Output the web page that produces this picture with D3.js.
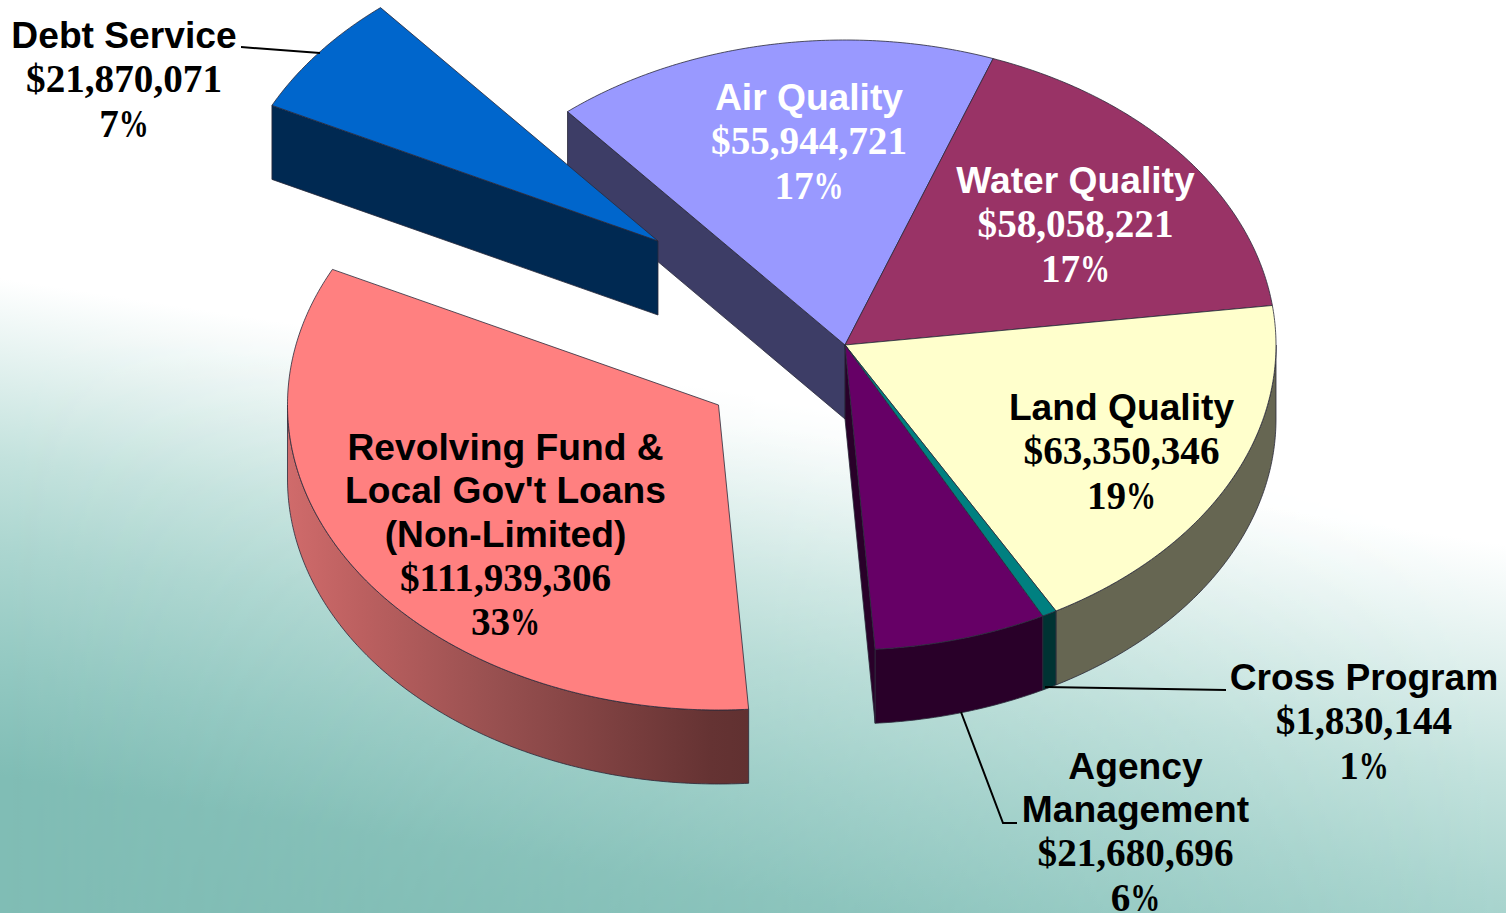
<!DOCTYPE html>
<html><head><meta charset="utf-8">
<script src="https://cdn.jsdelivr.net/npm/d3@7"></script>
<style>html,body{margin:0;padding:0;background:#fff;overflow:hidden}svg{display:block}</style>
</head><body><svg id="c" width="1506" height="913"></svg>
<script>
const categories = ["Debt Service","Air Quality","Water Quality","Land Quality","Cross Program","Agency Management","Revolving Fund & Local Gov't Loans (Non-Limited)"];
const amounts = [21870071,55944721,58058221,63350346,1830144,21680696,111939306];
const percents = ["7","17","17","19","1","6","33"];
const nameLines = [["Debt Service"],["Air Quality"],["Water Quality"],["Land Quality"],["Cross Program"],["Agency","Management"],["Revolving Fund &","Local Gov't Loans","(Non-Limited)"]];
const topColors = ["#0066cc","#9999ff","#993366","#ffffcc","#008080","#660066","#ff8080"];
const wallColors = ["#002952","#3d3d66","#3d1429","#666652","#003333","#290029","#663333"];
const textColors = ["#000","#fff","#fff","#000","#000","#000","#000"];
const labelCenters = [[124,48],[809,110],[1075.5,193],[1121.5,420],[1364,690],[1135.5,779],[505.5,460]];
const explode = [[-187,-104],[0,0],[0,0],[0,0],[0,0],[0,0],[-126.5,60]];
const drawOrder = [6,1,0,2,3,5,4];

const W=1506,H=913,cx=845,cy=345,rx=431,ry=305,depth=74;
const svg=d3.select("#c");
const defs=svg.append("defs");
function grad(id,x1,y1,x2,y2,stops){
  const g=defs.append("linearGradient").attr("id",id).attr("gradientUnits","userSpaceOnUse")
    .attr("x1",x1).attr("y1",y1).attr("x2",x2).attr("y2",y2);
  stops.forEach(s=>g.append("stop").attr("offset",s[0]).attr("stop-color",s[1]));
}
const bgStops=[[0,"#ffffff"],[0.36,"#c3e2dd"],[0.54,"#acd6d0"],[0.79,"#92c8c1"],[1,"#80bdb5"]];
grad("bgL",0,278,-76,765,bgStops);
grad("bgR",1506,545,1407,1164,bgStops);
grad("fade",0,0,W,0,[[0,"#000"],[1,"#fff"]]);
defs.append("mask").attr("id","fadeMask").attr("maskUnits","userSpaceOnUse")
  .attr("x",0).attr("y",0).attr("width",W).attr("height",H)
  .append("rect").attr("width",W).attr("height",H).attr("fill","url(#fade)");
svg.append("rect").attr("width",W).attr("height",H).attr("fill","url(#bgL)");
svg.append("rect").attr("width",W).attr("height",H).attr("fill","url(#bgR)").attr("mask","url(#fadeMask)");
grad("revWall",287,0,748,0,[[0,"#d06b6b"],[0.16,"#bc6060"],[0.45,"#985050"],[0.64,"#844444"],[0.92,"#653333"],[1,"#613131"]]);

const arcs=d3.pie().sort(null).value(d=>d).startAngle(-63.6*Math.PI/180).endAngle((360-63.6)*Math.PI/180)(amounts);
const rxS=d3.scaleLinear().domain([0,1]).range([0,rx]);
const ryS=d3.scaleLinear().domain([0,1]).range([0,ry]);
const proj=(a,ox,oy,dz=0)=>[cx+ox+rxS(Math.sin(a)),cy+oy+dz-ryS(Math.cos(a))];
const line=d3.line();
const samp=(a0,a1)=>{const n=Math.max(2,Math.ceil(Math.abs(a1-a0)/0.01));return d3.range(n+1).map(i=>a0+(a1-a0)*i/n);};
const stroke="#2a2a3a";
const PI=Math.PI;

drawOrder.forEach(i=>{
  const d=arcs[i],[ox,oy]=explode[i],g=svg.append("g");
  const apex=[cx+ox,cy+oy];
  const apexB=[apex[0],apex[1]+depth];
  [d.startAngle,d.endAngle].forEach((a,k)=>{
    const show=(k===0&&i===1)||(k===0&&i===0)||(k===1&&i===5);
    if(!show)return;
    const e=proj(a,ox,oy),eb=proj(a,ox,oy,depth);
    g.append("path").attr("d",line([apex,e,eb,apexB])+"Z")
      .attr("fill",wallColors[i]).attr("stroke",stroke).attr("stroke-width",0.8);
  });
  const a0=Math.max(d.startAngle,PI/2),a1=Math.min(d.endAngle,3*PI/2);
  if(a1>a0){
    const up=samp(a0,a1).map(a=>proj(a,ox,oy));
    const dn=samp(a1,a0).map(a=>proj(a,ox,oy,depth));
    g.append("path").attr("d",line(up.concat(dn))+"Z")
      .attr("fill",i===6?"url(#revWall)":wallColors[i]).attr("stroke",stroke).attr("stroke-width",0.8);
  }
  const rim=samp(d.startAngle,d.endAngle).map(a=>proj(a,ox,oy));
  g.append("path").attr("d",line([apex].concat(rim))+"Z")
    .attr("fill",topColors[i]).attr("stroke",stroke).attr("stroke-width",0.8);
});

const leaders=[[[241,47],[320,53]],[[1045,687],[1226,690]],[[961,712],[1003,823],[1017,823]]];
leaders.forEach(p=>svg.append("path").attr("d",line(p)).attr("fill","none").attr("stroke","#000").attr("stroke-width",2));

const fmt=d3.format("$,");
const serifSize=39.2, sans="'Liberation Sans',Arial,sans-serif", serif="'Liberation Serif','Times New Roman',serif";
amounts.forEach((v,i)=>{
  const t=svg.append("text").attr("text-anchor","middle").attr("fill",textColors[i]);
  const [x,y0]=labelCenters[i];
  let y=y0;
  const n=nameLines[i].length;
  nameLines[i].forEach((s,k)=>{
    t.append("tspan").attr("x",x).attr("y",y).attr("font-family",sans).attr("font-weight",700).attr("font-size",37.2).text(s);
    y+= k<n-1?43.4:44;
  });
  t.append("tspan").attr("x",x).attr("y",y).attr("font-family",serif).attr("font-weight",700).attr("font-size",serifSize).text(fmt(v));
  y+=44.5;
  const p=t.append("tspan").attr("x",x).attr("y",y).attr("font-family",serif).attr("font-weight",700).attr("font-size",serifSize);
  p.append("tspan").text(percents[i]);
  p.append("tspan").attr("textLength",30).attr("lengthAdjust","spacingAndGlyphs").text("%");
});
</script></body></html>
